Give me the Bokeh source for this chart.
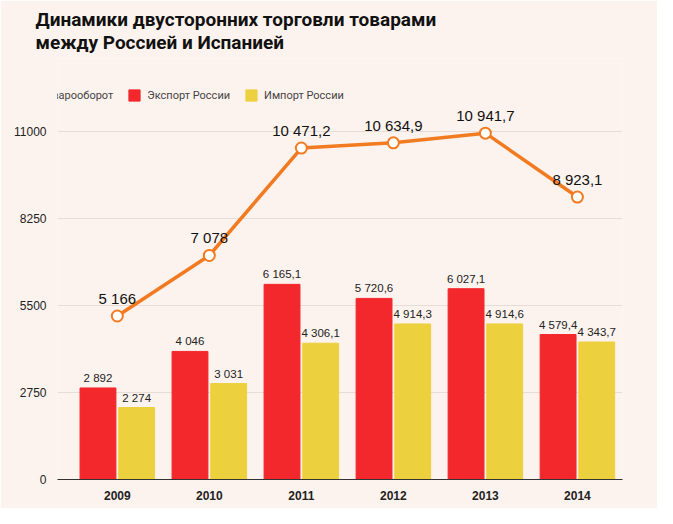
from bokeh.plotting import figure
from bokeh.models import ColumnDataSource, FixedTicker, Range1d, Legend, LegendItem
from bokeh.embed import file_html
from bokeh.resources import INLINE

years = ["2009", "2010", "2011", "2012", "2013", "2014"]
turnover = [5166, 7078, 10471.2, 10634.9, 10941.7, 8923.1]
turnover_lbl = ["5 166", "7 078", "10 471,2", "10 634,9", "10 941,7", "8 923,1"]
export = [2892, 4046, 6165.1, 5720.6, 6027.1, 4579.4]
export_lbl = ["2 892", "4 046", "6 165,1", "5 720,6", "6 027,1", "4 579,4"]
imports = [2274, 3031, 4306.1, 4914.3, 4914.6, 4343.7]
import_lbl = ["2 274", "3 031", "4 306,1", "4 914,3", "4 914,6", "4 343,7"]
yticks = [0, 2750, 5500, 8250, 11000]

BG = "#fdf3ee"
RED = "#f3282c"
YEL = "#edd03e"
ORA = "#f27b21"
F = "Roboto"

x = list(range(len(years)))
src = ColumnDataSource(dict(x=x, xe=[i - 0.21 for i in x], xi=[i + 0.21 for i in x],
                            t=turnover, tl=turnover_lbl, e=export, el=export_lbl,
                            im=imports, il=import_lbl))

p = figure(width=657, height=508, output_backend="svg", toolbar_location=None,
           x_range=Range1d(-0.65, 5.49), y_range=Range1d(0, 13300),
           min_border_left=57, min_border_right=35, min_border_bottom=29, min_border_top=42,
           background_fill_color=BG, border_fill_color=BG, outline_line_color=None,
           title="Динамики двусторонних торговли товарами\nмежду Россией и Испанией")
p.title.text_font = F
p.title.text_font_size = "19px"
p.title.text_font_style = "bold"
p.title.text_color = "#111111"
p.title.offset = -22

be = p.vbar(x="xe", top="e", width=0.39, source=src, color=RED)
bi = p.vbar(x="xi", top="im", width=0.39, source=src, color=YEL)
ln = p.line(x="x", y="t", source=src, color=ORA, line_width=3.5)
sc = p.scatter(x="x", y="t", source=src, size=11, fill_color="white", line_color=ORA, line_width=2)

p.text(x="x", y="t", text="tl", source=src, text_align="center", text_baseline="bottom",
       y_offset=-9, text_font_size="15px", text_color="#111111")
p.text(x="xe", y="e", text="el", source=src, text_align="center", text_baseline="bottom",
       y_offset=-4, text_font_size="11.5px", text_color="#222222")
p.text(x="xi", y="im", text="il", source=src, text_align="center", text_baseline="bottom",
       y_offset=-4, text_font_size="11.5px", text_color="#222222")

legend = Legend(items=[LegendItem(label="Товарооборот", renderers=[ln, sc]),
                       LegendItem(label="Экспорт России", renderers=[be]),
                       LegendItem(label="Импорт России", renderers=[bi])],
                orientation="horizontal", location=(-37, 377), background_fill_alpha=0,
                border_line_color=None, label_text_font_size="11px", label_text_font=F,
                glyph_width=14, glyph_height=14, spacing=14, margin=0, padding=0,
                label_standoff=6)
p.add_layout(legend)

p.yaxis.ticker = FixedTicker(ticks=yticks)
p.yaxis.axis_line_color = None
p.yaxis.major_tick_line_color = None
p.yaxis.minor_tick_line_color = None
p.yaxis.major_label_text_font_size = "12px"
p.yaxis.major_label_text_color = "#222222"
p.ygrid.ticker = FixedTicker(ticks=yticks)
p.ygrid.grid_line_color = "#e9dcd6"
p.xgrid.grid_line_color = None

p.xaxis.ticker = FixedTicker(ticks=x)
p.xaxis.major_label_overrides = {i: y for i, y in enumerate(years)}
p.xaxis.major_label_text_font_style = "bold"
p.xaxis.major_label_text_font_size = "12px"
p.xaxis.major_label_text_color = "#222222"
p.xaxis.axis_line_color = "#333333"
p.xaxis.major_tick_line_color = None
p.xaxis.minor_tick_line_color = None

open("out.html", "w").write(file_html(p, INLINE))
